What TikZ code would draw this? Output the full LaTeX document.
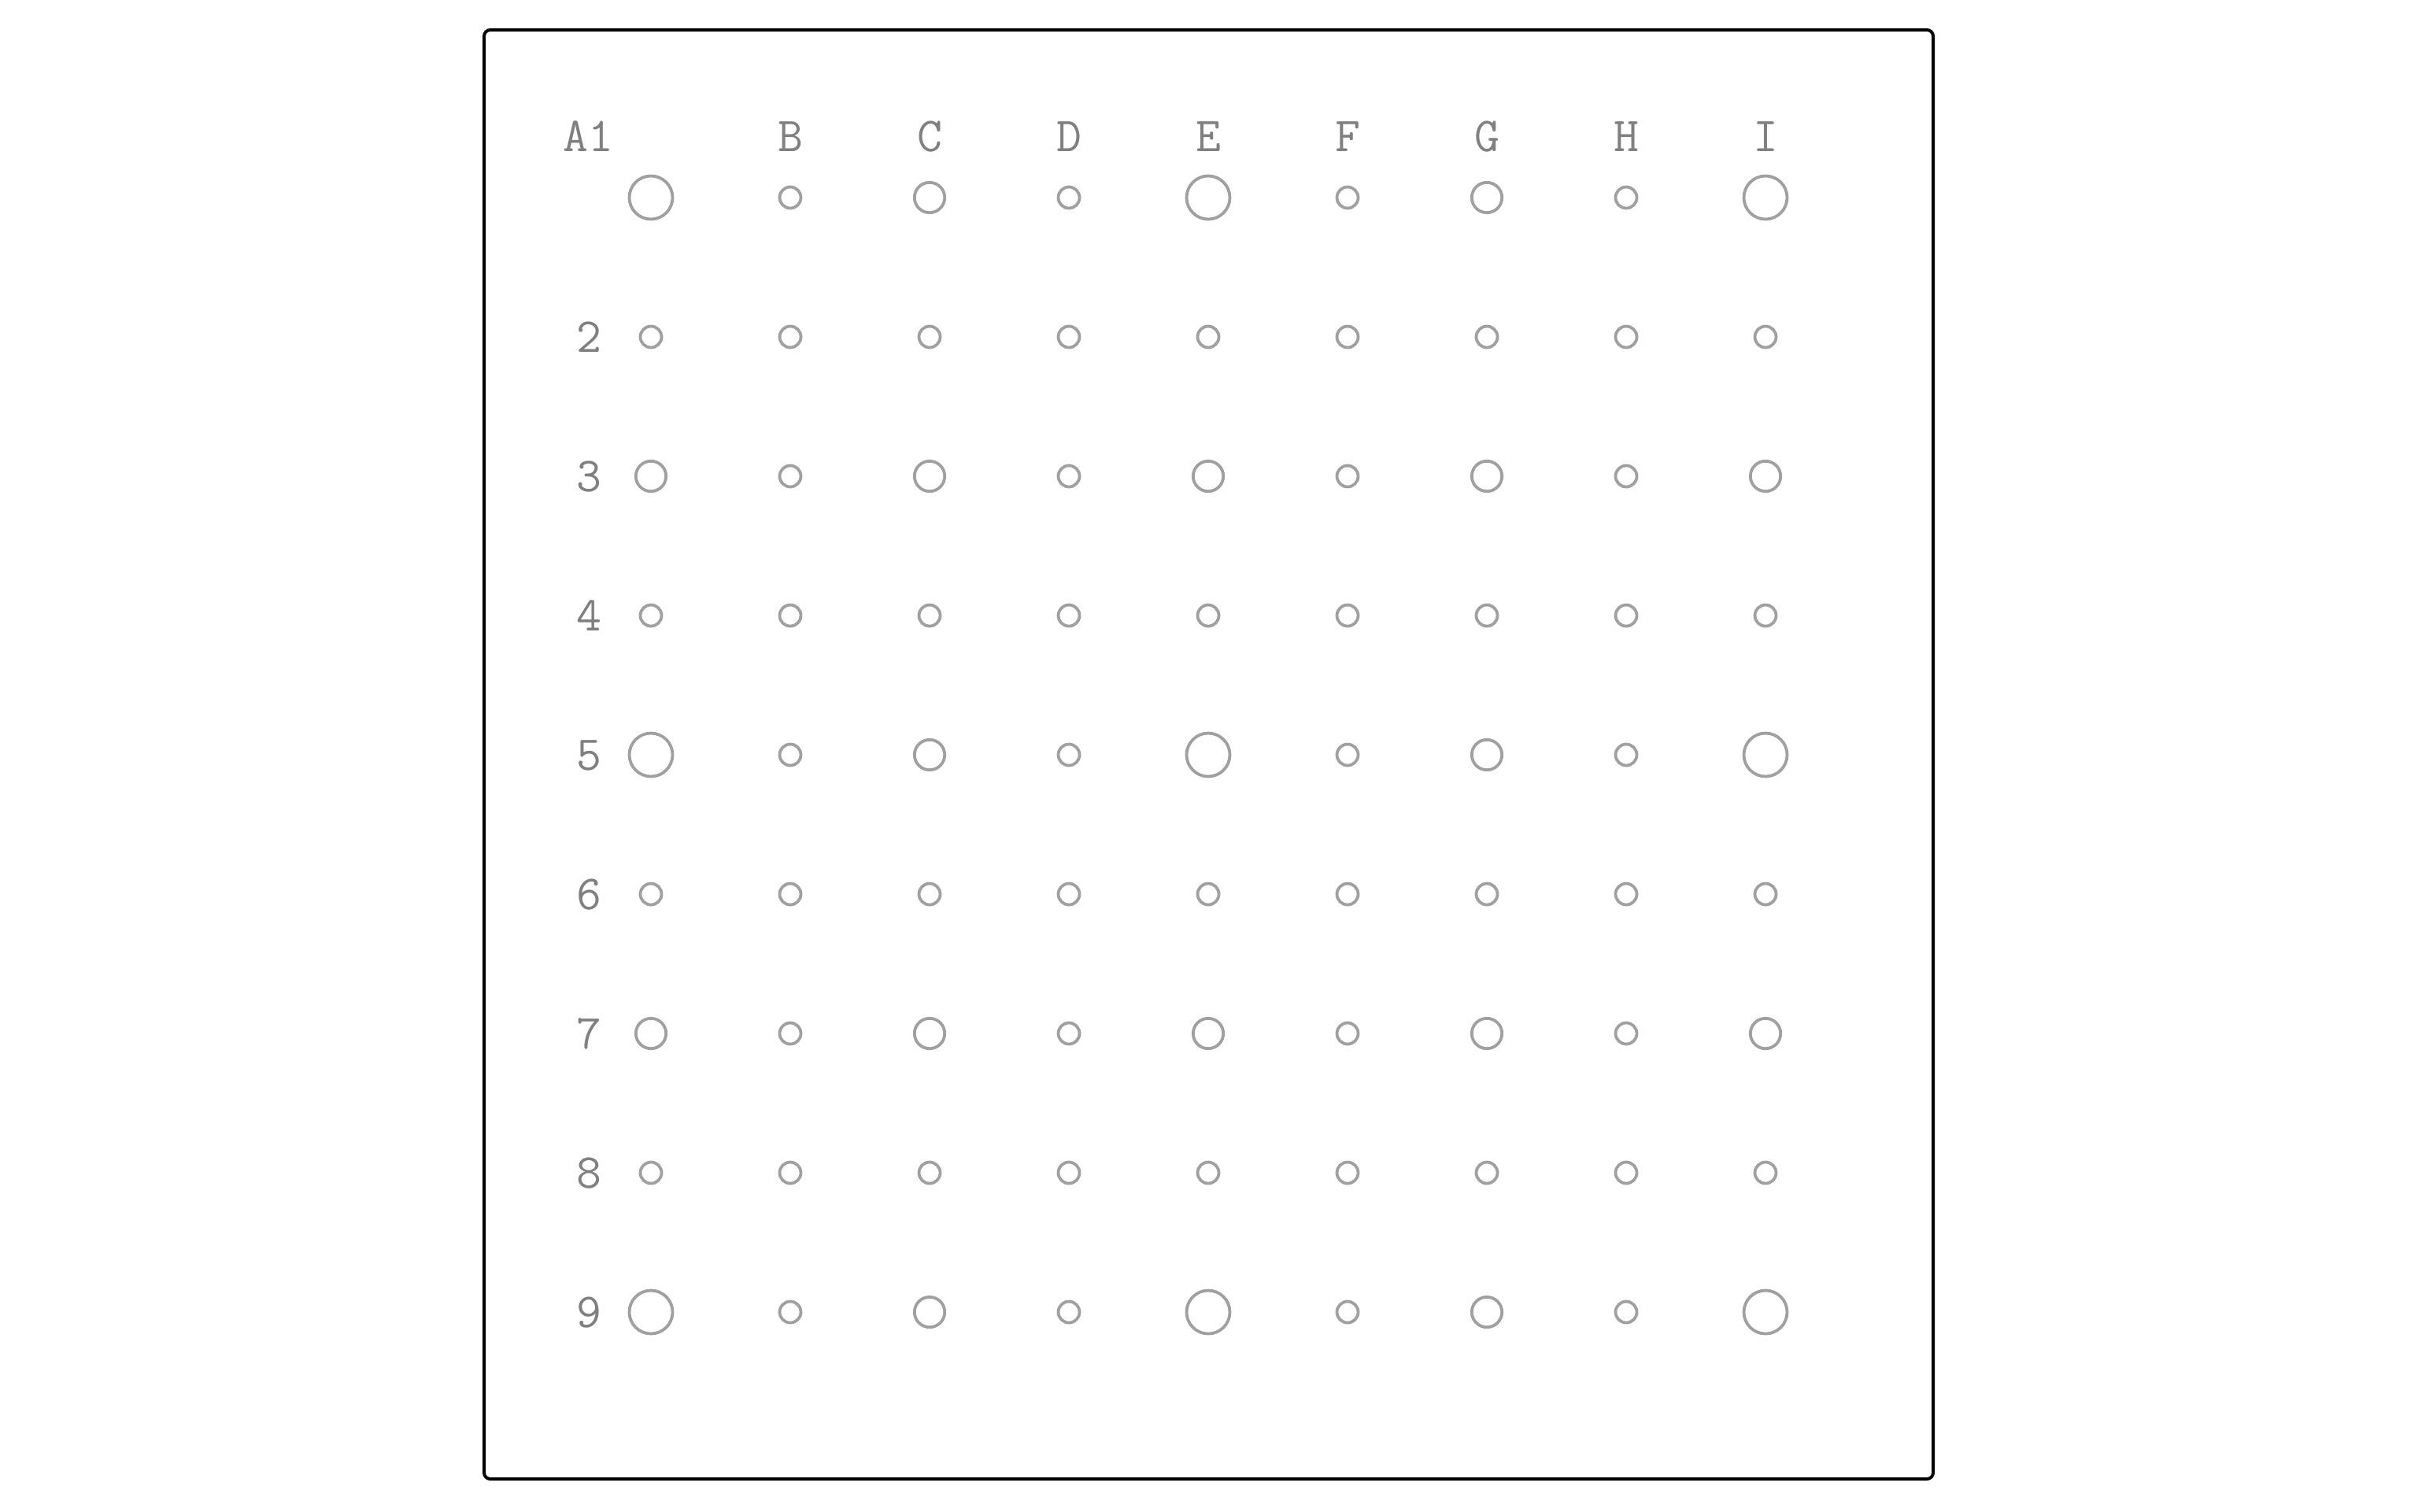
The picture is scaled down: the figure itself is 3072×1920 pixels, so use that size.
\documentclass[tikz,border=0pt]{standalone}
\usepackage{fontspec}
\definecolor{holegray}{HTML}{A0A0A0}
\definecolor{labelgray}{HTML}{808080}
\begin{document}
\begin{tikzpicture}[x=0.25pt,y=-0.25pt,
  frame/.style={draw=black,line width=1pt,rounded corners=2pt},
  hole/.style={circle,draw=holegray,line width=0.95pt,inner sep=0pt,fill=none},
  hb/.style={hole,minimum size=13.75pt},
  hm/.style={hole,minimum size=9.6pt},
  hs/.style={hole,minimum size=6.75pt},
  lbl/.style={font=\ttfamily\fontsize{15.5}{15.5}\selectfont,text=labelgray,inner sep=0pt,anchor=base}]
\useasboundingbox (0,0) rectangle (3072,1920);
\draw[frame] (615,38) rectangle (2456,1879);
% circles
\foreach \r/\pat in {1/{hb,hs,hm,hs,hb,hs,hm,hs,hb},
                     2/{hs,hs,hs,hs,hs,hs,hs,hs,hs},
                     3/{hm,hs,hm,hs,hm,hs,hm,hs,hm},
                     4/{hs,hs,hs,hs,hs,hs,hs,hs,hs},
                     5/{hb,hs,hm,hs,hb,hs,hm,hs,hb},
                     6/{hs,hs,hs,hs,hs,hs,hs,hs,hs},
                     7/{hm,hs,hm,hs,hm,hs,hm,hs,hm},
                     8/{hs,hs,hs,hs,hs,hs,hs,hs,hs},
                     9/{hb,hs,hm,hs,hb,hs,hm,hs,hb}}{
  \foreach \s [count=\c] in \pat {
    \node[\s] (h-\r-\c) at ({827+177*(\c-1)},{251+177*(\r-1)}) {};
  }
}
% column labels
\node[lbl] (lA1) at (747,192.7) {A1};
\foreach \L [count=\c from 2] in {B,C,D,E,F,G,H,I}{
  \node[lbl] (col-\L) at ({827+177*(\c-1)},192.7) {\L};
}
% row labels
\foreach \r in {2,...,9}{
  \node[lbl] (row-\r) at (748,{251+177*(\r-1)+19}) {\r};
}
\end{tikzpicture}
\end{document}
